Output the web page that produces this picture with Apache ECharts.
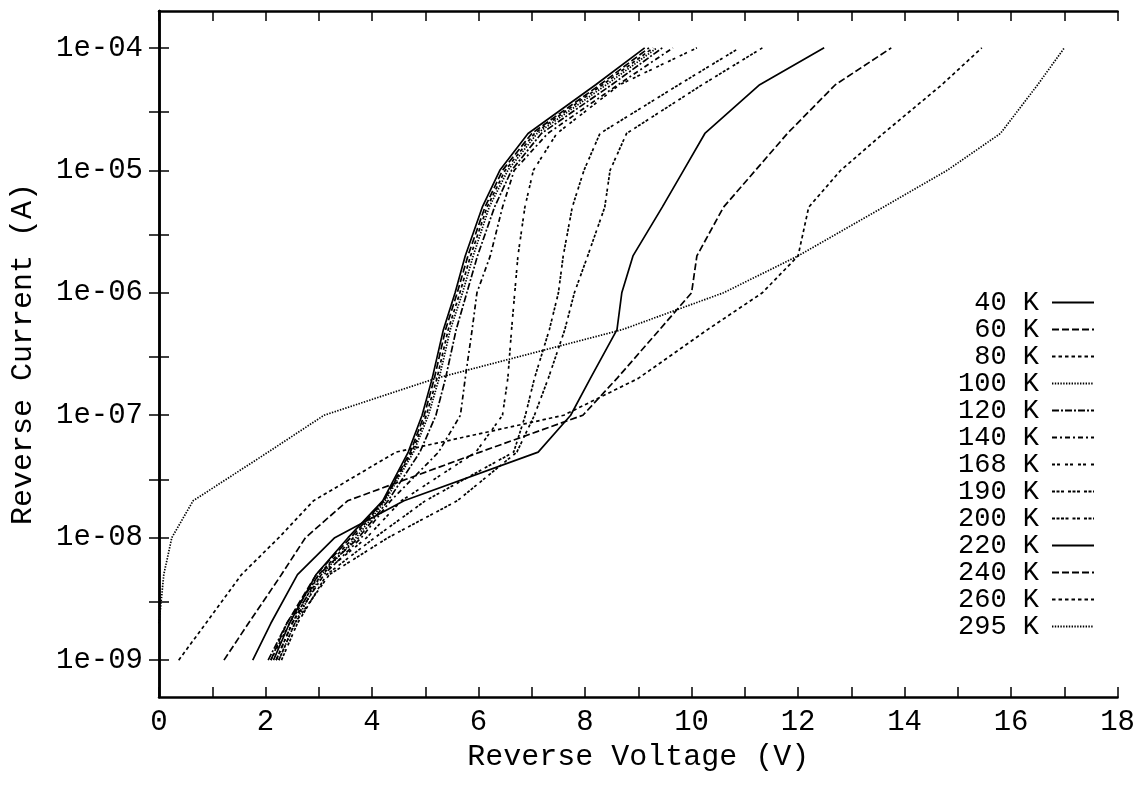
<!DOCTYPE html>
<html><head><meta charset="utf-8">
<script src="https://cdn.jsdelivr.net/npm/echarts@6/dist/echarts.min.js"></script>
<style>html,body{margin:0;padding:0;background:#fff}#c{width:1138px;height:799px}</style>
</head><body><div id="c"></div>
<script>
// Current values (A) at which each curve was sampled
const currents = [1e-9,2e-9,5e-9,1e-8,2e-8,5e-8,1e-7,2e-7,5e-7,1e-6,2e-6,5e-6,1e-5,2e-5,5e-5,1e-4];
const temps = ['40 K','60 K','80 K','100 K','120 K','140 K','168 K','190 K','200 K','220 K','240 K','260 K','295 K'];
// Reverse voltage (V) for each temperature, one value per current above
const v40  = [2.15,2.45,2.95,3.55,4.20,4.68,4.94,5.13,5.34,5.56,5.75,6.07,6.40,6.93,8.20,9.12];
const v60  = [2.10,2.40,2.95,3.60,4.22,4.72,4.98,5.17,5.38,5.60,5.80,6.12,6.45,7.00,8.28,9.20];
const v80  = [2.20,2.50,3.00,3.65,4.22,4.75,5.02,5.22,5.43,5.65,5.85,6.16,6.50,7.05,8.33,9.28];
const v100 = [2.25,2.55,3.05,3.70,4.25,4.78,5.06,5.26,5.47,5.70,5.90,6.20,6.55,7.10,8.40,9.35];
const v120 = [2.05,2.40,3.00,3.75,4.30,4.90,5.20,5.38,5.58,5.78,5.98,6.30,6.62,7.18,8.50,9.45];
const v140 = [2.20,2.50,3.10,3.80,4.35,5.25,5.66,5.75,5.88,5.97,6.22,6.45,6.67,7.30,8.62,9.65];
const v168 = [2.10,2.45,3.05,3.90,4.55,5.95,6.45,6.55,6.62,6.68,6.74,6.87,7.03,7.47,8.65,10.10];
const v190 = [2.30,2.60,3.15,4.05,5.00,6.66,6.88,7.05,7.33,7.50,7.59,7.76,7.98,8.28,9.76,10.90];
const v200 = [2.25,2.55,3.20,4.30,5.60,6.72,7.05,7.31,7.62,7.80,8.05,8.37,8.47,8.78,10.20,11.33];
const v220 = [1.76,2.10,2.60,3.30,4.60,7.12,7.73,8.10,8.60,8.69,8.90,9.45,9.85,10.25,11.28,12.49];
const v240 = [1.22,1.68,2.30,2.75,3.54,6.03,7.96,8.60,9.40,10.00,10.10,10.60,11.20,11.80,12.70,13.75];
const v260 = [0.37,0.88,1.55,2.25,2.90,4.45,7.60,9.00,10.30,11.33,12.00,12.20,12.80,13.60,14.70,15.45];
const v295 = [null,0.00,0.09,0.24,0.64,2.05,3.10,5.20,8.70,10.60,12.00,13.60,14.80,15.80,16.50,17.00];
const voltages = [v40,v60,v80,v100,v120,v140,v168,v190,v200,v220,v240,v260,v295];

// Axis tick values / labels
const xTickLabelValues = [0,2,4,6,8,10,12,14,16,18];
const yLabelValues = [1e-9,1e-8,1e-7,1e-6,1e-5,1e-4];
const yTickLabels = ['1e-09','1e-08','1e-07','1e-06','1e-05','1e-04'];
const yTickValues = [1e-9,3e-9,1e-8,3e-8,1e-7,3e-7,1e-6,3e-6,1e-5,3e-5,1e-4];

// Line styles (gnuplot-like dash patterns)
const dashes = [
  'solid', [7,3], [3.5,3], [1.4,1.4], [7,2,2,2], [5,3,2,3],
  [3,2,3,5], [3,1.5,3,1.5,3,4], [3,1.5,3,1.5,3,1.5,3,4,3,1.5,3,4],
  'solid', [7,3], [3.5,3], [1.4,1.4]
];

const FONT = 'Liberation Mono';
const series = temps.map((t, i) => ({
  name: t,
  type: 'line',
  symbol: 'none',
  showSymbol: false,
  silent: true,
  data: currents.map((c, k) => [voltages[i][k], c]).filter(p => p[0] !== null),
  lineStyle: { color: '#000', width: 1.7, type: dashes[i] },
  itemStyle: { color: '#000' }
}));

const chart = echarts.init(document.getElementById('c'), null, { renderer: 'canvas' });
chart.setOption({
  animation: false,
  backgroundColor: '#fff',
  grid: { left: 158, right: 19, top: 11, bottom: 102, containLabel: false },
  legend: {
    orient: 'vertical',
    right: 43,
    top: 289,
    align: 'right',
    itemWidth: 42,
    itemHeight: 12,
    itemGap: 0,
    padding: 0,
    selectedMode: false,
    itemStyle: { opacity: 0 },
    textStyle: { fontFamily: FONT, fontSize: 27, color: '#000', lineHeight: 25, padding: [0, 8, 0, 0] },
    data: temps
  },
  xAxis: [{
    type: 'value', min: 0, max: 18, interval: 1,
    name: 'Reverse Voltage (V)', nameLocation: 'middle', nameGap: 45,
    nameTextStyle: { fontFamily: FONT, fontSize: 30, color: '#000' },
    axisLine: { lineStyle: { color: '#000', width: 2.5 } },
    axisTick: { inside: true, length: 10, lineStyle: { color: '#000', width: 1.5 } },
    axisLabel: { fontFamily: FONT, fontSize: 29, color: '#000', margin: 11,
      formatter: v => xTickLabelValues.indexOf(v) >= 0 ? String(v) : '' },
    splitLine: { show: false }
  }, {
    type: 'value', min: 0, max: 18, interval: 1, position: 'top',
    axisLine: { show: true, lineStyle: { color: '#000', width: 2.5 } },
    axisTick: { inside: true, length: 10, lineStyle: { color: '#000', width: 1.5 } },
    axisLabel: { show: false }, splitLine: { show: false }
  }],
  yAxis: [{
    type: 'log', logBase: 10, min: 5e-10, max: 2e-4,
    name: 'Reverse Current (A)', nameLocation: 'middle', nameGap: 121,
    nameTextStyle: { fontFamily: FONT, fontSize: 30, color: '#000' },
    axisLine: { show: true, lineStyle: { color: '#000', width: 2.5 } },
    axisTick: { show: true, inside: true, length: 10, customValues: yTickValues, lineStyle: { color: '#000', width: 1.5 } },
    axisLabel: { fontFamily: FONT, fontSize: 29, color: '#000', margin: 16, customValues: yLabelValues,
      formatter: v => { const k = Math.round(Math.log10(v)) + 9; return yTickLabels[k] || ''; } },
    splitLine: { show: false }
  }, {
    type: 'log', logBase: 10, min: 5e-10, max: 2e-4, position: 'right',
    axisLine: { show: true, lineStyle: { color: '#000', width: 2.5 } },
    axisTick: { show: true, inside: true, length: 10, customValues: yTickValues, lineStyle: { color: '#000', width: 1.5 } },
    axisLabel: { show: false }, splitLine: { show: false }
  }],
  series: series
});
</script></body></html>
